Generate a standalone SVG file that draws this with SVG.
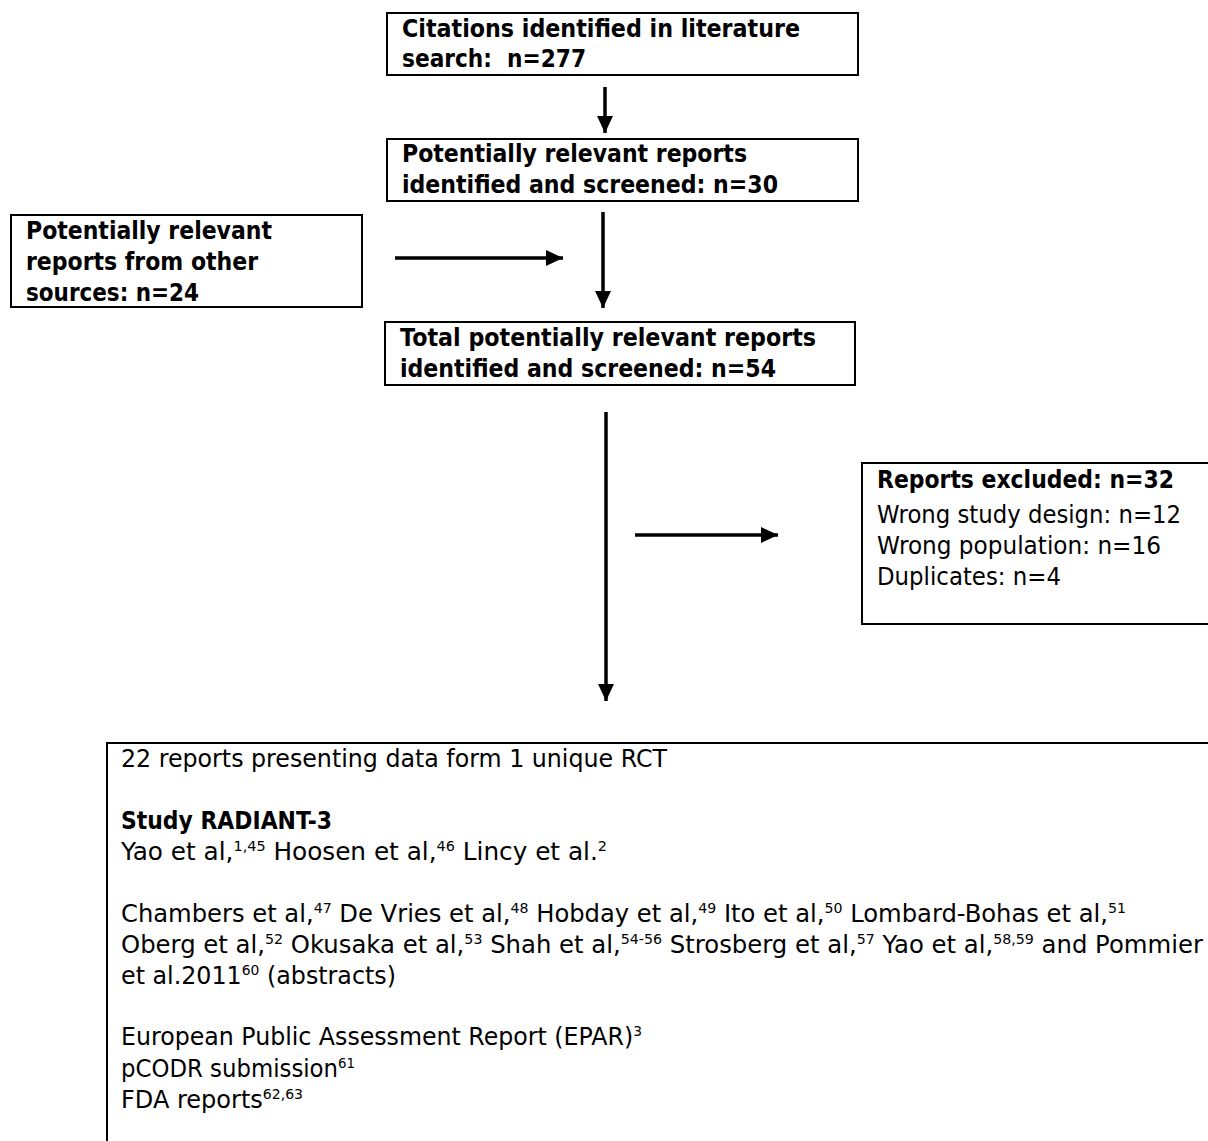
<svg xmlns="http://www.w3.org/2000/svg" width="1208" height="1141" viewBox="0 0 1208 1141">
<style>
.box{fill:#fff;stroke:#000;stroke-width:2}
text{font-family:"DejaVu Sans",sans-serif;font-size:24px;fill:#000}
.b{font-weight:bold}
.s{font-size:14px}
.c{stroke:#000;stroke-width:3.5;fill:none}
</style>
<defs>
<marker id="ah" markerUnits="userSpaceOnUse" markerWidth="20" markerHeight="18" refX="17" refY="9" orient="auto">
<path d="M0,1 L17,9 L0,17 Z" fill="#000"/>
</marker>
</defs>
<rect width="1208" height="1141" fill="#fff"/>
<g id="connectors">
<line class="c" x1="605" y1="87" x2="605" y2="133" marker-end="url(#ah)"/>
<line class="c" x1="395" y1="258" x2="563" y2="258" marker-end="url(#ah)"/>
<line class="c" x1="603" y1="212" x2="603" y2="308" marker-end="url(#ah)"/>
<line class="c" x1="606" y1="412" x2="606" y2="701" marker-end="url(#ah)"/>
<line class="c" x1="635" y1="535" x2="778" y2="535" marker-end="url(#ah)"/>
</g>
<g id="n1">
<rect class="box" x="387" y="13" width="471" height="62"/>
<text class="b" x="402" y="37" textLength="398" lengthAdjust="spacingAndGlyphs">Citations identified in literature</text>
<text class="b" x="402" y="67" textLength="184" lengthAdjust="spacingAndGlyphs" xml:space="preserve">search:  n=277</text>
</g>
<g id="n2">
<rect class="box" x="387" y="139" width="471" height="62"/>
<text class="b" x="402" y="162" textLength="345" lengthAdjust="spacingAndGlyphs">Potentially relevant reports</text>
<text class="b" x="402" y="193" textLength="376" lengthAdjust="spacingAndGlyphs">identified and screened: n=30</text>
</g>
<g id="n3">
<rect class="box" x="11" y="215" width="351" height="92"/>
<text class="b" x="26" y="239" textLength="246" lengthAdjust="spacingAndGlyphs">Potentially relevant</text>
<text class="b" x="26" y="270" textLength="232" lengthAdjust="spacingAndGlyphs">reports from other</text>
<text class="b" x="26" y="301" textLength="173" lengthAdjust="spacingAndGlyphs">sources: n=24</text>
</g>
<g id="n4">
<rect class="box" x="385" y="322" width="470" height="63"/>
<text class="b" x="400" y="346" textLength="416" lengthAdjust="spacingAndGlyphs">Total potentially relevant reports</text>
<text class="b" x="400" y="377" textLength="376" lengthAdjust="spacingAndGlyphs">identified and screened: n=54</text>
</g>
<g id="n5">
<rect class="box" x="862" y="463" width="370" height="161"/>
<text class="b" x="877" y="488" textLength="297" lengthAdjust="spacingAndGlyphs">Reports excluded: n=32</text>
<text x="877" y="523" textLength="304" lengthAdjust="spacingAndGlyphs">Wrong study design: n=12</text>
<text x="877" y="554" textLength="284" lengthAdjust="spacingAndGlyphs">Wrong population: n=16</text>
<text x="877" y="585" textLength="184" lengthAdjust="spacingAndGlyphs">Duplicates: n=4</text>
</g>
<g id="n6">
<rect class="box" x="107" y="743" width="1120" height="420"/>
<text x="121" y="767" textLength="546" lengthAdjust="spacingAndGlyphs">22 reports presenting data form 1 unique RCT</text>
<text class="b" x="121" y="829" textLength="211" lengthAdjust="spacingAndGlyphs">Study RADIANT-3</text>
<text x="121" y="860" textLength="486" lengthAdjust="spacingAndGlyphs">Yao et al,<tspan class="s" dy="-9">1,45</tspan><tspan dy="9"> Hoosen et al,</tspan><tspan class="s" dy="-9">46</tspan><tspan dy="9"> Lincy et al.</tspan><tspan class="s" dy="-9">2</tspan></text>
<text x="121" y="922" textLength="1005" lengthAdjust="spacingAndGlyphs">Chambers et al,<tspan class="s" dy="-9">47</tspan><tspan dy="9"> De Vries et al,</tspan><tspan class="s" dy="-9">48</tspan><tspan dy="9"> Hobday et al,</tspan><tspan class="s" dy="-9">49</tspan><tspan dy="9"> Ito et al,</tspan><tspan class="s" dy="-9">50</tspan><tspan dy="9"> Lombard-Bohas et al,</tspan><tspan class="s" dy="-9">51</tspan></text>
<text x="121" y="953" textLength="1082" lengthAdjust="spacingAndGlyphs">Oberg et al,<tspan class="s" dy="-9">52</tspan><tspan dy="9"> Okusaka et al,</tspan><tspan class="s" dy="-9">53</tspan><tspan dy="9"> Shah et al,</tspan><tspan class="s" dy="-9">54-56</tspan><tspan dy="9"> Strosberg et al,</tspan><tspan class="s" dy="-9">57</tspan><tspan dy="9"> Yao et al,</tspan><tspan class="s" dy="-9">58,59</tspan><tspan dy="9"> and Pommier</tspan></text>
<text x="121" y="984" textLength="275" lengthAdjust="spacingAndGlyphs">et al.2011<tspan class="s" dy="-9">60</tspan><tspan dy="9"> (abstracts)</tspan></text>
<text x="121" y="1045" textLength="521" lengthAdjust="spacingAndGlyphs">European Public Assessment Report (EPAR)<tspan class="s" dy="-9">3</tspan></text>
<text x="121" y="1077" textLength="234" lengthAdjust="spacingAndGlyphs">pCODR submission<tspan class="s" dy="-9">61</tspan></text>
<text x="121" y="1108" textLength="182" lengthAdjust="spacingAndGlyphs">FDA reports<tspan class="s" dy="-9">62,63</tspan></text>
</g>
</svg>
